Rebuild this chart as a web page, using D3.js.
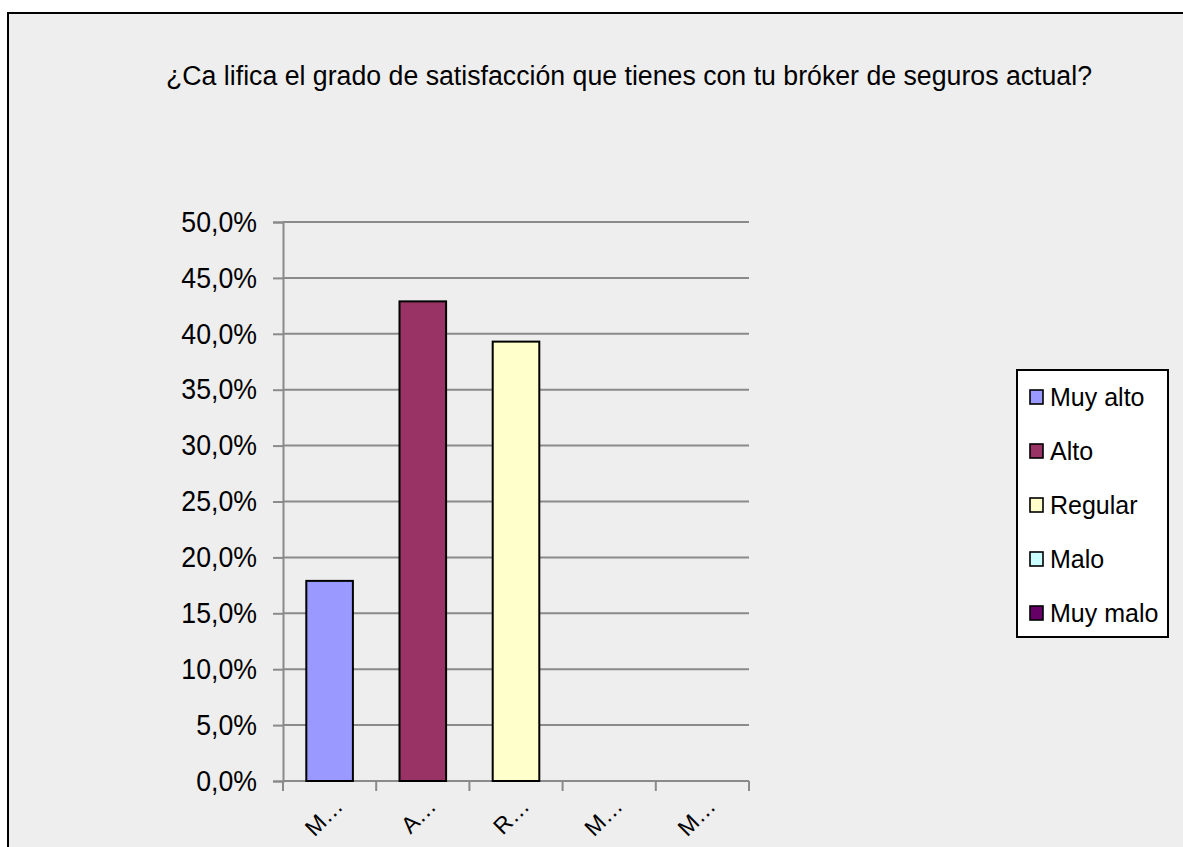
<!DOCTYPE html>
<html>
<head>
<meta charset="utf-8">
<script src="https://cdn.jsdelivr.net/npm/d3@7"></script>
<style>
  html, body { margin: 0; padding: 0; background: #ffffff; }
  svg { display: block; }
  text { font-family: "Liberation Sans", Arial, sans-serif; fill: #000; }
</style>
</head>
<body>
<svg id="chart" width="1183" height="847"></svg>
<script>
const titleText = "¿Ca lifica el grado de satisfacción que tienes con tu bróker de seguros actual?";
const categories = ["Muy alto", "Alto", "Regular", "Malo", "Muy malo"];
const axisLabels = ["M…", "A…", "R…", "M…", "M…"];
const values = [17.9, 42.9, 39.3, 0, 0];
const colors = ["#9999FF", "#993366", "#FFFFCC", "#CCFFFF", "#660066"];
const yTicks = [0, 5, 10, 15, 20, 25, 30, 35, 40, 45, 50];

const svg = d3.select("#chart");

// chart area background and border
svg.append("rect").attr("x", 8).attr("y", 13).attr("width", 1200).attr("height", 900)
  .attr("fill", "#EEEEEE").attr("stroke", "#000").attr("stroke-width", 2);

// title
svg.append("text")
  .attr("x", 629).attr("y", 85)
  .attr("text-anchor", "middle")
  .attr("font-size", 27)
  .attr("textLength", 926).attr("lengthAdjust", "spacingAndGlyphs")
  .text(titleText);

const x = d3.scaleBand().domain(categories).range([283, 749]).paddingInner(0.5).paddingOuter(0.25);
const y = d3.scaleLinear().domain([0, 50]).range([781, 222]);
const fmt = v => d3.format(".1f")(v).replace(".", ",") + "%";

// gridlines
svg.append("g").selectAll("line").data(yTicks.filter(d => d > 0)).join("line")
  .attr("x1", 283).attr("x2", 749)
  .attr("y1", d => y(d)).attr("y2", d => y(d))
  .attr("stroke", "#8A8A8A").attr("stroke-width", 2);

// y axis
const sx = 0.92;
const yAxis = svg.append("g").attr("transform", "translate(283,0)")
  .call(d3.axisLeft(y).tickValues(yTicks).tickFormat(fmt).tickSize(10).tickPadding(16));
yAxis.select(".domain").attr("stroke", "#8A8A8A").attr("stroke-width", 2);
yAxis.selectAll(".tick line").attr("stroke", "#8A8A8A").attr("stroke-width", 2);
yAxis.selectAll(".tick text")
  .attr("font-size", 29).attr("font-family", "Liberation Sans, Arial, sans-serif").attr("fill", "#000")
  .attr("x", -26 / sx)
  .attr("transform", `scale(${sx},1)`);

// x axis
const xAxis = svg.append("g").attr("transform", "translate(0,781)")
  .call(d3.axisBottom(x).tickSize(0).tickFormat((d, i) => axisLabels[i]));
xAxis.select(".domain").remove();
const bounds = [283].concat(categories.map(c => x(c) + x.bandwidth() + x.step() * x.paddingInner() / 2));
bounds[bounds.length - 1] = 749;
xAxis.append("line").attr("x1", 283).attr("x2", 749).attr("y1", 0).attr("y2", 0)
  .attr("stroke", "#8A8A8A").attr("stroke-width", 2);
xAxis.selectAll(".sep").data(bounds).join("line").attr("class", "sep")
  .attr("x1", d => d).attr("x2", d => d).attr("y1", 0).attr("y2", 10)
  .attr("stroke", "#8A8A8A").attr("stroke-width", 2);
xAxis.selectAll(".tick text")
  .attr("font-size", 23).attr("font-family", "Liberation Sans, Arial, sans-serif").attr("fill", "#000")
  .attr("text-anchor", "end")
  .attr("transform", "translate(9,21) rotate(-45)")
  .attr("dy", "0.35em").attr("y", 0);

// bars
svg.append("g").selectAll("rect")
  .data(categories.map((c, i) => ({c, v: values[i], col: colors[i]})).filter(d => d.v > 0))
  .join("rect")
  .attr("x", d => x(d.c)).attr("width", x.bandwidth())
  .attr("y", d => y(d.v)).attr("height", d => y(0) - y(d.v))
  .attr("fill", d => d.col).attr("stroke", "#000").attr("stroke-width", 2);

// legend
const lg = svg.append("g");
lg.append("rect").attr("x", 1017).attr("y", 370).attr("width", 151).attr("height", 267)
  .attr("fill", "#fff").attr("stroke", "#000").attr("stroke-width", 2);
const items = lg.selectAll("g.item").data(categories).join("g").attr("class", "item")
  .attr("transform", (d, i) => `translate(1030, ${397 + i * 54})`);
items.append("rect").attr("x", 0).attr("y", -7).attr("width", 13).attr("height", 14)
  .attr("fill", (d, i) => colors[i]).attr("stroke", "#000").attr("stroke-width", 1.6);
items.append("text").attr("x", 20).attr("y", 0).attr("dy", "0.35em")
  .attr("font-size", 25).text(d => d);
</script>
</body>
</html>
